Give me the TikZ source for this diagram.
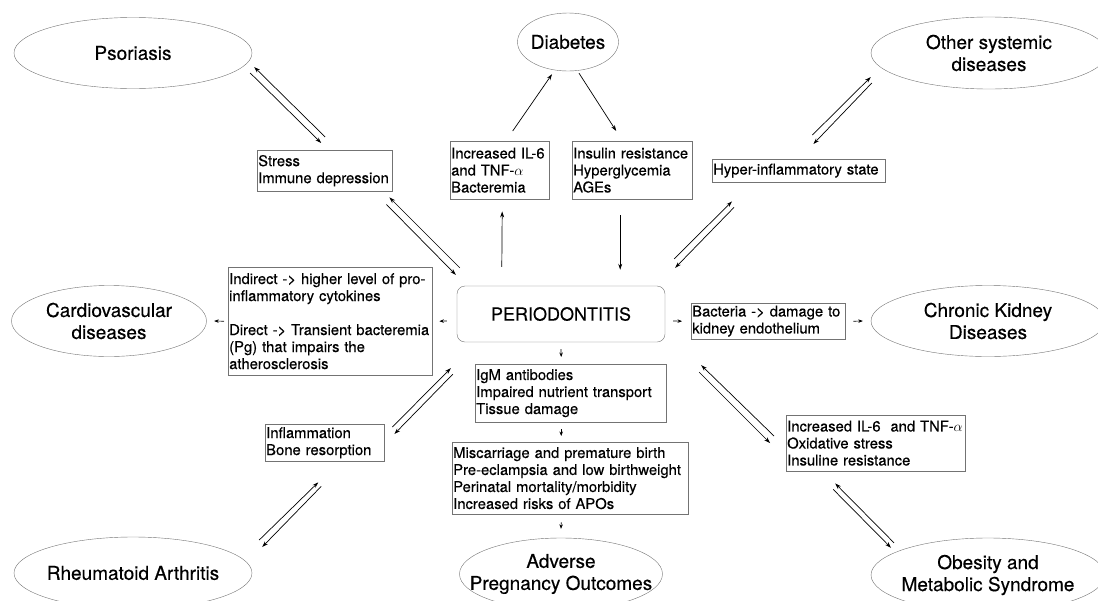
\documentclass[tikz,border=0pt]{standalone}
\usepackage{fontspec}
\setmainfont{TeX Gyre Heros}[FakeBold=0.35]
\usetikzlibrary{shapes.geometric, arrows.meta}

\begin{document}
\begin{tikzpicture}[x=1pt, y=-1pt,
    disease/.style={ellipse, draw=black!55, inner sep=0pt, label={[align=center, font=\fontsize{19}{22}\selectfont]center:#1}},
    textbox/.style={draw=black!55, anchor=north west, align=left, inner xsep=1pt, inner ysep=0pt, font=\fontsize{14.8}{17}\selectfont},
    arr/.style={-{Stealth[length=6pt, width=4pt]}, line width=0.7pt},
    stub/.style={-{Stealth[length=4.5pt, width=3.5pt]}, line width=0.7pt}]
\useasboundingbox (0,0) rectangle (1098,600);
\clip (0,0) rectangle (1098,600);

\node [disease={Psoriasis}, minimum width=238, minimum height=71] (psoriasis) at (133,53) {};
\node [disease={Diabetes}, minimum width=101, minimum height=58] (diabetes) at (568,42) {};
\node [disease={Other systemic\\diseases}, minimum width=236, minimum height=72] (othersys) at (989,53) {};
\node [disease={Cardiovascular\\diseases}, minimum width=195, minimum height=71] (cardio) at (109,321) {};
\node [disease={Chronic Kidney\\Diseases}, minimum width=234, minimum height=71] (kidney) at (988,321) {};
\node [disease={Rheumatoid Arthritis}, minimum width=238, minimum height=72] (arthritis) at (133,573) {};
\node [disease={Adverse\\Pregnancy Outcomes}, minimum width=203, minimum height=72] (pregnancy) at (561,574) {};
\node [disease={Obesity and\\Metabolic Syndrome}, minimum width=234, minimum height=74] (obesity) at (988,575) {};

\node [draw=black!55, rounded corners=8pt, minimum width=208, minimum height=56, font=\fontsize{18}{22}\selectfont] (perio) at (561,314) {PERIODONTITIS};

\node [textbox, text width=133, minimum height=41] (stress) at (257,150) {Stress\\Immune depression};
\node [textbox, text width=97, minimum height=58] (cytokines) at (450,141) {Increased IL-6\\and TNF-$\alpha$\\Bacteremia};
\node [textbox, text width=118, minimum height=58] (insulin) at (572,141) {Insulin resistance\\Hyperglycemia\\AGEs};
\node [textbox, text width=171, minimum height=23] (hyper) at (712,159) {Hyper-inflammatory state};
\node [textbox, text width=202, minimum height=108] (indirect) at (228,267) {Indirect -> higher level of pro-\\inflammatory cytokines\\[17pt]Direct -> Transient bacteremia\\(Pg) that impairs the\\atherosclerosis};
\node [textbox, text width=152, minimum height=36] (bacteria) at (691,303) {Bacteria -> damage to\\kidney endothelium};
\node [textbox, text width=189, minimum height=58] (igm) at (475,364) {IgM antibodies\\Impaired nutrient transport\\Tissue damage};
\node [textbox, text width=234, minimum height=72] (apos) at (452,442) {Miscarriage and premature birth\\Pre-eclampsia and low birthweight\\Perinatal mortality/morbidity\\Increased risks of APOs};
\node [textbox, text width=117, minimum height=37] (bone) at (265,424) {Inflammation\\Bone resorption};
\node [textbox, text width=177, minimum height=56] (oxid) at (786,415) {Increased IL-6~ and TNF-$\alpha$\\Oxidative stress\\Insuline resistance};

\draw [arr] ([shift={(0.5,-13)}]stress.north) -- ([shift={(2,14)}]psoriasis.east);
\draw [arr] ([shift={(-2,20)}]psoriasis.east) -- ([shift={(-3.5,-7)}]stress.north);
\draw [arr] ([shift={(3,-18)}]perio.north west) -- ([shift={(-3,6)}]stress.south east);
\draw [arr] ([shift={(-6,13)}]stress.south east) -- ([shift={(-1,-11)}]perio.north west);

\draw [arr] ([shift={(13,-10)}]cytokines.north) -- ([shift={(-16,3)}]diabetes.south);
\draw [arr] ([shift={(11,2)}]diabetes.south) -- ([shift={(-16,-10)}]insulin.north);
\draw [arr] ([shift={(45,-19)}]perio.north west) -- ([shift={(2.5,12)}]cytokines.south);
\draw [arr] ([shift={(-12,16)}]insulin.south) -- ([shift={(-45,-16)}]perio.north east);

\draw [arr] ([shift={(-73,-24)}]hyper.north east) -- ([shift={(0,24)}]othersys.west);
\draw [arr] ([shift={(1,30)}]othersys.west) -- ([shift={(-72,-15)}]hyper.north east);
\draw [arr] ([shift={(9,-27)}]perio.north east) -- ([shift={(20,19)}]hyper.south west);
\draw [arr] ([shift={(22,25)}]hyper.south west) -- ([shift={(10,-18)}]perio.north east);

\draw [stub] ([shift={(-10,7)}]perio.west) -- ([shift={(7,0)}]indirect.east);
\draw [stub] ([shift={(-4,0)}]indirect.west) -- ([shift={(7.5,0)}]cardio.east);
\draw [stub] ([shift={(8,7)}]perio.east) -- ([shift={(-9,0)}]bacteria.west);
\draw [stub] ([shift={(8,0)}]bacteria.east) -- ([shift={(-8,0)}]kidney.west);

\draw [stub] ([shift={(0,7)}]perio.south) -- ([shift={(-9.5,-7)}]igm.north);
\draw [stub] ([shift={(-9.5,7)}]igm.south) -- ([shift={(-9,-6)}]apos.north);
\draw [stub] ([shift={(-9,8)}]apos.south) -- ([shift={(0,-9)}]pregnancy.north);

\draw [arr] ([shift={(8,3)}]bone.north east) -- ([shift={(-6,26)}]perio.south west);
\draw [arr] ([shift={(-4,32)}]perio.south west) -- ([shift={(10,10)}]bone.north east);
\draw [arr] ([shift={(7,-33)}]arthritis.east) -- ([shift={(-6.5,21)}]bone.south);
\draw [arr] ([shift={(-3.5,25)}]bone.south) -- ([shift={(10,-26)}]arthritis.east);

\draw [arr] ([shift={(-12,21)}]oxid.north west) -- ([shift={(36,23)}]perio.south east);
\draw [arr] ([shift={(34,30)}]perio.south east) -- ([shift={(-16,28)}]oxid.north west);
\draw [arr] ([shift={(-94,5)}]obesity.north) -- ([shift={(-40.5,12)}]oxid.south);
\draw [arr] ([shift={(-42.5,18)}]oxid.south) -- ([shift={(-97,10)}]obesity.north);
\end{tikzpicture}
\end{document}
